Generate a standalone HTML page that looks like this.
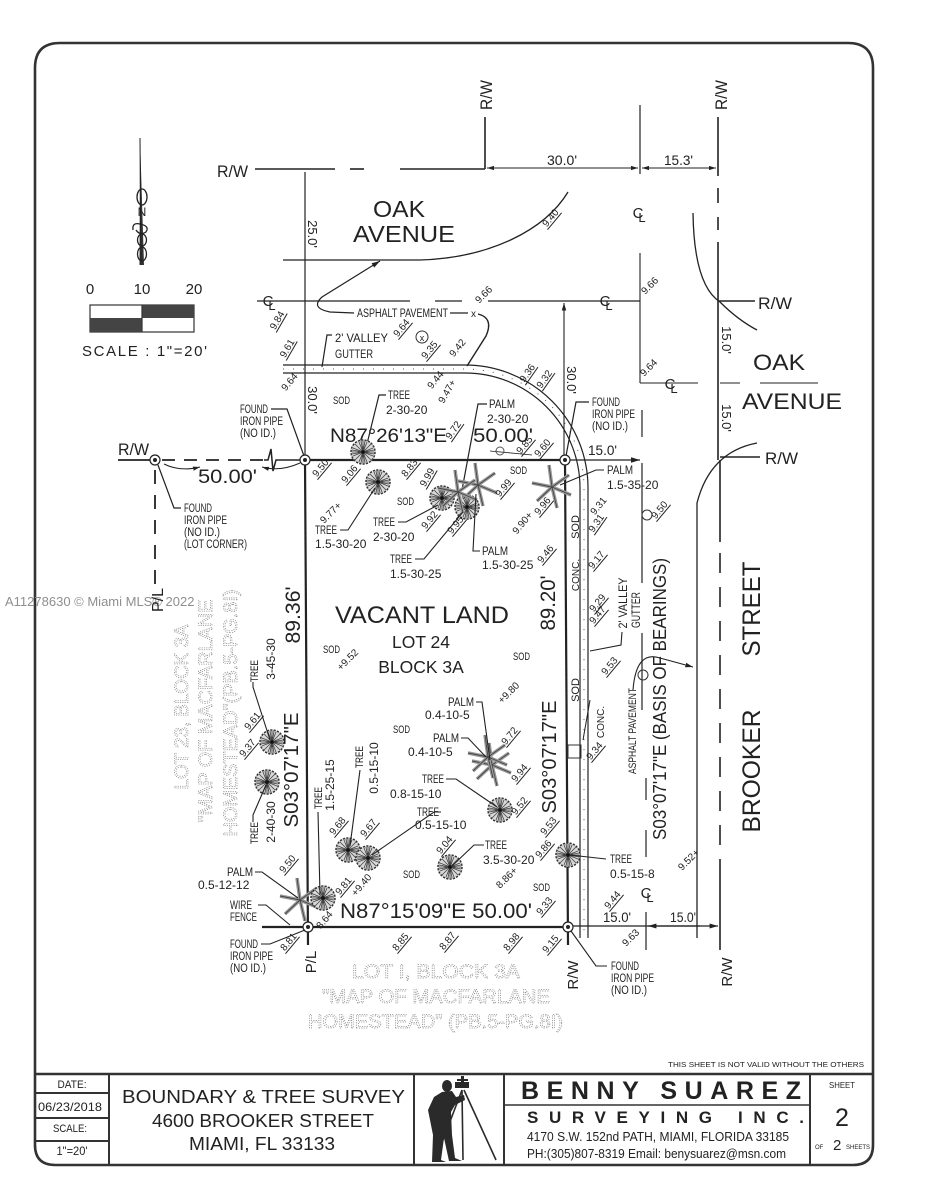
<!DOCTYPE html>
<html><head><meta charset="utf-8">
<style>
html,body{margin:0;padding:0;background:#fff;}
svg{display:block;}
text{font-family:"Liberation Sans",sans-serif;fill:#222;}
.g{fill:none;stroke:#8a8a8a;stroke-width:0.75;stroke-dasharray:1.1 1.2;}
.ln{stroke:#222;fill:none;}
</style></head><body>
<svg width="927" height="1200" viewBox="0 0 927 1200" xmlns="http://www.w3.org/2000/svg">
<defs>
<marker id="a" viewBox="0 0 10 10" refX="10" refY="5" markerWidth="7" markerHeight="7" orient="auto-start-reverse"><path d="M0,2L10,5L0,8z" fill="#222"/></marker>
<g id="t">
<circle r="12" fill="#d8d8d8" stroke="#333" stroke-width="1.5" stroke-dasharray="2.2 1.2"/>
<path d="M-11,0H11M0,-11V11M-8,-8L8,8M-8,8L8,-8M-4,-10L4,10M-10,-4L10,4M-10,4L10,-4M-4,10L4,-10M-2,-11L2,11M-11,-2L11,2M-11,2L11,-2M-2,11L2,-11" stroke="#444" stroke-width="0.8"/>
<circle r="1.8" fill="#111"/>
</g>
<g id="p">
<path d="M0,0L-3,-22M0,0L17,-12M0,0L19,8M0,0L5,21M0,0L-15,14M0,0L-20,-4" stroke="#999" stroke-width="3.5"/>
<path d="M0,0L-3,-22M0,0L17,-12M0,0L19,8M0,0L5,21M0,0L-15,14M0,0L-20,-4" stroke="#444" stroke-width="0.9"/>
</g>
<g id="ip"><circle r="5" fill="#fff" stroke="#222" stroke-width="1.2"/><circle r="2" fill="#222"/></g>
</defs>
<rect width="927" height="1200" fill="#fff"/>

<!-- border -->
<path d="M60,43 H848 Q873,43 873,68 V1145 Q873,1165 853,1165 H55 Q35,1165 35,1145 V68 Q35,43 60,43Z" fill="none" stroke="#333" stroke-width="2.6"/>
<line x1="35" y1="1074" x2="873" y2="1074" stroke="#333" stroke-width="2.6"/>
<g stroke="#333" stroke-width="2">
<line x1="109" y1="1074" x2="109" y2="1165"/>
<line x1="414" y1="1074" x2="414" y2="1165"/>
<line x1="504" y1="1074" x2="504" y2="1165"/>
<line x1="810" y1="1074" x2="810" y2="1165"/>
<line x1="35" y1="1093" x2="109" y2="1093"/>
<line x1="35" y1="1118" x2="109" y2="1118"/>
<line x1="35" y1="1141" x2="109" y2="1141"/>
<line x1="504" y1="1105" x2="810" y2="1105" stroke-width="1.5"/>
</g>
<text x="668" y="1067" font-size="7.5" textLength="196" lengthAdjust="spacingAndGlyphs">THIS SHEET IS NOT VALID WITHOUT THE OTHERS</text>

<!-- title block texts -->
<text x="72" y="1088" font-size="11" text-anchor="middle" textLength="29" lengthAdjust="spacingAndGlyphs">DATE:</text>
<text x="70" y="1111" font-size="12" text-anchor="middle" textLength="64" lengthAdjust="spacingAndGlyphs">06/23/2018</text>
<text x="70" y="1132" font-size="11" text-anchor="middle" textLength="34" lengthAdjust="spacingAndGlyphs">SCALE:</text>
<text x="72" y="1155" font-size="12" text-anchor="middle" textLength="31" lengthAdjust="spacingAndGlyphs">1"=20'</text>
<text x="122" y="1103" font-size="18" textLength="283" lengthAdjust="spacingAndGlyphs">BOUNDARY &amp; TREE SURVEY</text>
<text x="152" y="1127" font-size="18" textLength="222" lengthAdjust="spacingAndGlyphs">4600 BROOKER STREET</text>
<text x="189" y="1150" font-size="18" textLength="146" lengthAdjust="spacingAndGlyphs">MIAMI, FL 33133</text>
<text x="521" y="1099" font-size="25" font-weight="bold" textLength="280" lengthAdjust="spacing" fill="#333">BENNY SUAREZ</text>
<text x="527" y="1123" font-size="17" font-weight="bold" textLength="277" lengthAdjust="spacing" fill="#333">SURVEYING INC.</text>
<text x="527" y="1141" font-size="13" textLength="262" lengthAdjust="spacingAndGlyphs">4170 S.W. 152nd PATH,  MIAMI, FLORIDA 33185</text>
<text x="527" y="1158" font-size="13" textLength="259" lengthAdjust="spacingAndGlyphs">PH:(305)807-8319  Email:  benysuarez@msn.com</text>
<text x="842" y="1088" font-size="8.5" text-anchor="middle" textLength="26" lengthAdjust="spacingAndGlyphs">SHEET</text>
<text x="842" y="1126" font-size="25" text-anchor="middle">2</text>
<text x="815" y="1149" font-size="6">OF</text>
<text x="833" y="1150" font-size="15">2</text>
<text x="846" y="1149" font-size="6.5" textLength="24" lengthAdjust="spacingAndGlyphs">SHEETS</text>

<!-- surveyor figure -->
<g fill="#2a2a2a">
<ellipse cx="447" cy="1086" rx="5" ry="6"/>
<path d="M442,1092 L452,1091 L456,1097 L464,1095 L465,1100 L455,1105 L451,1112 L452,1135 L455,1158 L462,1161 L449,1161 L444,1138 L441,1160 L446,1162 L432,1162 L433,1135 L428,1110 L434,1097 Z"/>
<rect x="455" y="1082" width="14" height="6"/>
<rect x="461" y="1076" width="3" height="12"/>
<rect x="457" y="1079" width="11" height="2"/>
</g>
<g stroke="#2a2a2a" stroke-width="1.6">
<line x1="462" y1="1090" x2="443" y2="1140"/>
<line x1="462" y1="1090" x2="463" y2="1160"/>
<line x1="464" y1="1090" x2="496" y2="1160"/>
</g>

<!-- north arrow -->
<path d="M140,138 L144,265 L139.5,265 Z" fill="#333"/>
<line x1="140" y1="138" x2="141" y2="265" stroke="#222" stroke-width="1"/>
<ellipse cx="142" cy="197" rx="5" ry="8" fill="none" stroke="#222" stroke-width="1.3"/>
<text x="142" y="216" font-size="12" text-anchor="middle" font-family="Liberation Serif, serif">N</text>
<path d="M133,230 Q132,222 140,224 Q150,226 146,232 Q140,236 136,230" fill="none" stroke="#222" stroke-width="1.3"/>
<ellipse cx="142" cy="240" rx="4.5" ry="6" fill="none" stroke="#222" stroke-width="1.3"/>
<ellipse cx="142" cy="254" rx="4.5" ry="7" fill="none" stroke="#222" stroke-width="1.3"/>

<!-- scale -->
<text x="90" y="294" font-size="15" text-anchor="middle">0</text>
<text x="142" y="294" font-size="15" text-anchor="middle">10</text>
<text x="194" y="294" font-size="15" text-anchor="middle">20</text>
<rect x="90" y="305" width="104" height="27" fill="#fff" stroke="#333" stroke-width="1.2"/>
<rect x="142" y="305" width="52" height="13" fill="#444"/>
<rect x="90" y="318" width="52" height="14" fill="#444"/>
<line x1="142" y1="305" x2="142" y2="332" stroke="#333" stroke-width="1.2"/>
<text x="82" y="356" font-size="15" textLength="125" lengthAdjust="spacing">SCALE : 1"=20'</text>

<!-- watermark -->
<text x="5" y="606" font-size="13" fill="#8f8f8f" style="fill:#8f8f8f">A11278630 © Miami MLS® 2022</text>

<!-- ===== TOP OAK AVENUE ===== -->
<text x="217" y="177" font-size="17" textLength="31" lengthAdjust="spacingAndGlyphs">R/W</text>
<g class="ln" stroke-width="1.6">
<line x1="255" y1="169" x2="335" y2="169"/>
<line x1="350" y1="169" x2="364" y2="169"/>
<line x1="400" y1="169" x2="485" y2="169"/>
<line x1="485" y1="117" x2="485" y2="169"/>
<line x1="718" y1="117" x2="718" y2="176"/>
<line x1="718" y1="188" x2="718" y2="203"/>
<line x1="718" y1="217" x2="718" y2="230"/>
<line x1="718" y1="242" x2="718" y2="460"/>
<line x1="640" y1="105" x2="640" y2="174" stroke-width="1.2"/>
</g>
<line x1="487" y1="168" x2="638" y2="168" stroke="#222" stroke-width="1" marker-start="url(#a)" marker-end="url(#a)"/>
<line x1="642" y1="168" x2="716" y2="168" stroke="#222" stroke-width="1" marker-start="url(#a)" marker-end="url(#a)"/>
<g transform="translate(492,95) rotate(-90)"><text font-size="17" text-anchor="middle" textLength="30" lengthAdjust="spacingAndGlyphs">R/W</text></g>
<g transform="translate(727,95) rotate(-90)"><text font-size="17" text-anchor="middle" textLength="30" lengthAdjust="spacingAndGlyphs">R/W</text></g>
<text x="547" y="165" font-size="14" textLength="30" lengthAdjust="spacingAndGlyphs">30.0'</text>
<text x="664" y="165" font-size="14" textLength="29" lengthAdjust="spacingAndGlyphs">15.3'</text>

<!-- CL symbols -->
<g font-size="15" text-anchor="middle">
<text x="638" y="218">C</text><text x="642" y="222" font-size="13">L</text>
<text x="268" y="306">C</text><text x="272" y="310" font-size="13">L</text>
<text x="605" y="306">C</text><text x="609" y="310" font-size="13">L</text>
<text x="670" y="389">C</text><text x="674" y="393" font-size="13">L</text>
<text x="646" y="898">C</text><text x="650" y="902" font-size="13">L</text>
</g>

<text x="373" y="217" font-size="23" textLength="52" lengthAdjust="spacingAndGlyphs">OAK</text>
<text x="353" y="242" font-size="23" textLength="102" lengthAdjust="spacingAndGlyphs">AVENUE</text>

<!-- x=305 dimension line -->
<line x1="305" y1="172" x2="305" y2="460" stroke="#222" stroke-width="1.2"/>
<g transform="translate(308,234) rotate(90)"><text font-size="13" text-anchor="middle">25.0'</text></g>
<g transform="translate(308,400) rotate(90)"><text font-size="13" text-anchor="middle">30.0'</text></g>

<!-- pavement edge north -->
<path d="M283,260 L420,260 C490,258 545,230 568,192" class="ln" stroke-width="1.3"/>
<!-- CL line -->
<g class="ln" stroke-width="1.3">
<line x1="257" y1="301" x2="410" y2="301"/>
<line x1="435" y1="301" x2="462" y2="301"/>
<line x1="488" y1="301" x2="640" y2="301"/>
</g>
<text x="357" y="317" font-size="11.5" textLength="91" lengthAdjust="spacingAndGlyphs">ASPHALT PAVEMENT</text>
<path d="M354,313 L330,312 Q310,308 322,297 L380,261" class="ln" stroke-width="1.2" marker-end="url(#a)"/>
<path d="M450,313 L468,313" class="ln" stroke-width="1.2"/>
<text x="471" y="317" font-size="10">x</text>
<path d="M478,314 Q494,318 486,336 L467,366" class="ln" stroke-width="1.4"/>

<text x="335" y="342" font-size="12" textLength="53" lengthAdjust="spacingAndGlyphs">2' VALLEY</text>
<text x="335" y="358" font-size="12" textLength="38" lengthAdjust="spacingAndGlyphs">GUTTER</text>
<path d="M332,335 L327,335 L322,367" class="ln" stroke-width="1.2"/>
<circle cx="422" cy="337" r="6" fill="none" stroke="#333" stroke-width="1"/>
<text x="422" y="341" font-size="9" text-anchor="middle">x</text>

<!-- gutter -->
<path d="M283,365 L465,365 A123,123 0 0 1 588,488 L588,938" class="ln" stroke-width="1.2"/>
<path d="M283,373 L465,373 A115,115 0 0 1 580,488 L580,938" class="ln" stroke-width="1.2"/>
<path d="M283,369 L465,369 A119,119 0 0 1 584,488 L584,938" fill="none" stroke="#555" stroke-width="1" stroke-dasharray="1 9"/>

<text x="333" y="404" font-size="11" textLength="17" lengthAdjust="spacingAndGlyphs">SOD</text>

<!-- found iron pipe NW -->
<g font-size="11.5">
<text x="240" y="413" textLength="28" lengthAdjust="spacingAndGlyphs">FOUND</text>
<text x="240" y="425" textLength="43" lengthAdjust="spacingAndGlyphs">IRON PIPE</text>
<text x="240" y="437" textLength="36" lengthAdjust="spacingAndGlyphs">(NO ID.)</text>
</g>
<path d="M271,409 L287,409 L304,456" class="ln" stroke-width="1.2"/>

<g font-size="12">
<text x="388" y="399" textLength="22" lengthAdjust="spacingAndGlyphs">TREE</text>
<text x="386" y="414">2-30-20</text>
<text x="489" y="408" textLength="26" lengthAdjust="spacingAndGlyphs">PALM</text>
<text x="487" y="423">2-30-20</text>
</g>
<path d="M386,395 L379,395 L365,452" class="ln" stroke-width="1.2"/>
<path d="M487,404 L478,404 L462,490" class="ln" stroke-width="1.2"/>

<text x="330" y="442" font-size="19.5" textLength="117" lengthAdjust="spacingAndGlyphs">N87°26'13"E</text>
<text x="473" y="442" font-size="19.5" textLength="60" lengthAdjust="spacingAndGlyphs">50.00'</text>

<!-- found iron pipe NE -->
<g font-size="11.5">
<text x="592" y="406" textLength="28" lengthAdjust="spacingAndGlyphs">FOUND</text>
<text x="592" y="418" textLength="43" lengthAdjust="spacingAndGlyphs">IRON PIPE</text>
<text x="592" y="430" textLength="36" lengthAdjust="spacingAndGlyphs">(NO ID.)</text>
</g>
<path d="M589,402 L576,402 L566,456" class="ln" stroke-width="1.2"/>
<line x1="642" y1="410" x2="642" y2="437" stroke="#222" stroke-width="1.2"/>
<text x="588" y="455" font-size="14" textLength="29" lengthAdjust="spacingAndGlyphs">15.0'</text>
<line x1="565" y1="460" x2="640" y2="460" stroke="#222" stroke-width="1.3" marker-end="url(#a)"/>

<!-- x=564 dimension 30.0' -->
<line x1="564" y1="303" x2="564" y2="458" stroke="#222" stroke-width="1.1" marker-start="url(#a)"/>
<g transform="translate(567,380) rotate(90)"><text font-size="13" text-anchor="middle">30.0'</text></g>

<!-- x=640 dim line -->
<line x1="640" y1="253" x2="640" y2="383" stroke="#222" stroke-width="1.1"/>
<line x1="640" y1="383" x2="698" y2="383" stroke="#222" stroke-width="1.1"/>

<!-- NE curves and R/W -->
<path d="M693,213 Q694,285 720,302 Q738,320 757,330" class="ln" stroke-width="1.3"/>
<line x1="718" y1="301" x2="755" y2="301" stroke="#222" stroke-width="1.5"/>
<text x="758" y="309" font-size="17" textLength="34" lengthAdjust="spacingAndGlyphs">R/W</text>
<g transform="translate(722,340) rotate(90)"><text font-size="13" text-anchor="middle">15.0'</text></g>
<g transform="translate(722,418) rotate(90)"><text font-size="13" text-anchor="middle">15.0'</text></g>
<line x1="720" y1="383" x2="740" y2="383" stroke="#222" stroke-width="1.1"/>
<line x1="760" y1="383" x2="818" y2="383" stroke="#222" stroke-width="1.1"/>
<text x="753" y="370" font-size="22" textLength="52" lengthAdjust="spacingAndGlyphs">OAK</text>
<text x="742" y="409" font-size="22" textLength="100" lengthAdjust="spacingAndGlyphs">AVENUE</text>
<line x1="720" y1="457" x2="760" y2="457" stroke="#222" stroke-width="1.5"/>
<text x="765" y="464" font-size="17" textLength="33" lengthAdjust="spacingAndGlyphs">R/W</text>
<path d="M757,443 Q710,452 697,503 L697,938" class="ln" stroke-width="1.3"/>

<!-- x=720 line below -->
<line x1="720" y1="460" x2="720" y2="542" stroke="#222" stroke-width="1.6"/>
<line x1="720" y1="553" x2="720" y2="868" stroke="#222" stroke-width="1.6" stroke-dasharray="20 14"/>
<line x1="720" y1="868" x2="720" y2="950" stroke="#222" stroke-width="1.6"/>

<!-- x=642 line segments -->
<g stroke="#222" stroke-width="1.2">
<line x1="642" y1="463" x2="642" y2="583"/>
<line x1="642" y1="633" x2="642" y2="710"/>
<line x1="646" y1="778" x2="646" y2="800"/>
<line x1="646" y1="830" x2="646" y2="857"/>
<line x1="646" y1="912" x2="646" y2="950"/>
</g>

<!-- ===== LEFT R/W ===== -->
<text x="118" y="455" font-size="17" textLength="31" lengthAdjust="spacingAndGlyphs">R/W</text>
<line x1="118" y1="460" x2="150" y2="460" stroke="#222" stroke-width="1.8"/>
<line x1="162" y1="460" x2="264" y2="460" stroke="#222" stroke-width="1.8" stroke-dasharray="13 9"/>
<path d="M264,460 L268,460 L271,449 L273,471 L276,460 L300,460" class="ln" stroke-width="1.5"/>
<path d="M164,464 Q180,472 200,467" class="ln" stroke-width="1" marker-end="url(#a)"/>
<path d="M300,463 Q280,472 262,467" class="ln" stroke-width="1" marker-end="url(#a)"/>
<text x="198" y="483" font-size="19.5" textLength="59" lengthAdjust="spacingAndGlyphs">50.00'</text>
<line x1="155" y1="470" x2="155" y2="585" stroke="#222" stroke-width="1.8" stroke-dasharray="14 11"/>
<g transform="translate(163,600) rotate(-90)"><text font-size="16" text-anchor="middle">P/L</text></g>
<g font-size="11.5">
<text x="184" y="512" textLength="28" lengthAdjust="spacingAndGlyphs">FOUND</text>
<text x="184" y="524" textLength="43" lengthAdjust="spacingAndGlyphs">IRON PIPE</text>
<text x="184" y="536" textLength="36" lengthAdjust="spacingAndGlyphs">(NO ID.)</text>
<text x="184" y="548" textLength="63" lengthAdjust="spacingAndGlyphs">(LOT CORNER)</text>
</g>
<path d="M181,508 L174,508 L158,465" class="ln" stroke-width="1.2"/>

<!-- ===== LOT ===== -->
<g stroke="#222" stroke-width="2.2" fill="none">
<line x1="305" y1="460" x2="565" y2="460"/>
<line x1="305" y1="460" x2="308" y2="945"/>
<line x1="565" y1="460" x2="568" y2="945"/>
<line x1="262" y1="927" x2="568" y2="927"/>
</g>
<line x1="568" y1="926" x2="718" y2="926" stroke="#222" stroke-width="1.2" marker-end="url(#a)"/>
<line x1="648" y1="926" x2="700" y2="926" stroke="#222" stroke-width="1.2" marker-start="url(#a)"/>
<use href="#ip" x="155" y="460"/>
<use href="#ip" x="305" y="460"/>
<use href="#ip" x="565" y="460"/>
<use href="#ip" x="308" y="927"/>
<use href="#ip" x="568" y="927"/>

<!-- trees & palms -->
<use href="#t" x="363" y="452"/>
<use href="#t" x="378" y="482"/>
<use href="#t" x="442" y="498"/>
<use href="#t" x="467" y="507"/>
<use href="#p" x="478" y="485"/>
<use href="#p" x="458" y="492"/>
<use href="#p" x="552" y="487"/>
<use href="#t" x="272" y="742"/>
<use href="#t" x="267" y="782"/>
<use href="#p" x="492" y="765"/>
<use href="#p" x="488" y="757"/>
<use href="#t" x="500" y="810"/>
<use href="#t" x="348" y="850"/>
<use href="#t" x="368" y="858"/>
<use href="#t" x="450" y="867"/>
<use href="#t" x="568" y="855"/>
<use href="#p" x="300" y="900"/>
<use href="#t" x="323" y="898"/>
<path d="M532,455 L490,451" stroke="#222" stroke-width="0.8"/>
<circle cx="500" cy="451" r="4" fill="none" stroke="#555" stroke-width="1"/>

<g font-size="12">
<text x="315" y="534" textLength="22" lengthAdjust="spacingAndGlyphs">TREE</text>
<text x="315" y="548">1.5-30-20</text>
<text x="373" y="526" textLength="22" lengthAdjust="spacingAndGlyphs">TREE</text>
<text x="373" y="541">2-30-20</text>
<text x="390" y="563" textLength="22" lengthAdjust="spacingAndGlyphs">TREE</text>
<text x="390" y="578">1.5-30-25</text>
<text x="482" y="555" textLength="26" lengthAdjust="spacingAndGlyphs">PALM</text>
<text x="482" y="569">1.5-30-25</text>
<text x="607" y="474" textLength="26" lengthAdjust="spacingAndGlyphs">PALM</text>
<text x="607" y="489">1.5-35-20</text>
</g>
<path d="M340,530 L348,530 L375,488" class="ln" stroke-width="1.1"/>
<path d="M398,522 L406,522 L438,505" class="ln" stroke-width="1.1"/>
<path d="M415,559 L424,559 L463,512" class="ln" stroke-width="1.1"/>
<path d="M480,551 L473,551 L476,494" class="ln" stroke-width="1.1"/>
<path d="M604,470 L596,470 L560,485" class="ln" stroke-width="1.1"/>

<g font-size="11">
<text x="397" y="505" textLength="17" lengthAdjust="spacingAndGlyphs">SOD</text>
<text x="510" y="474" textLength="17" lengthAdjust="spacingAndGlyphs">SOD</text>
<text x="323" y="653" textLength="17" lengthAdjust="spacingAndGlyphs">SOD</text>
<text x="513" y="660" textLength="17" lengthAdjust="spacingAndGlyphs">SOD</text>
<text x="393" y="733" textLength="17" lengthAdjust="spacingAndGlyphs">SOD</text>
<text x="403" y="878" textLength="17" lengthAdjust="spacingAndGlyphs">SOD</text>
<text x="533" y="891" textLength="17" lengthAdjust="spacingAndGlyphs">SOD</text>
</g>
<g transform="translate(579,527) rotate(-90)"><text font-size="11" text-anchor="middle">SOD</text></g>
<g transform="translate(579,690) rotate(-90)"><text font-size="11" text-anchor="middle">SOD</text></g>
<g transform="translate(579,575) rotate(-90)"><text font-size="10" text-anchor="middle">CONC.</text></g>
<g transform="translate(604,722) rotate(-90)"><text font-size="10" text-anchor="middle">CONC.</text></g>
<rect x="568" y="745" width="13" height="13" fill="none" stroke="#333" stroke-width="1"/>
<path d="M583,740 L590,700" class="ln" stroke-width="1"/>

<text x="335" y="623" font-size="24" textLength="174" lengthAdjust="spacingAndGlyphs">VACANT LAND</text>
<text x="421" y="648" font-size="17.5" text-anchor="middle">LOT 24</text>
<text x="421" y="673" font-size="17.5" text-anchor="middle">BLOCK 3A</text>
<g transform="translate(300,615) rotate(-90)"><text font-size="21" text-anchor="middle" textLength="57" lengthAdjust="spacingAndGlyphs">89.36'</text></g>
<g transform="translate(555,603) rotate(-90)"><text font-size="21" text-anchor="middle" textLength="55" lengthAdjust="spacingAndGlyphs">89.20'</text></g>
<g transform="translate(298,770) rotate(-90)"><text font-size="20" text-anchor="middle" textLength="115" lengthAdjust="spacingAndGlyphs">S03°07'17"E</text></g>
<g transform="translate(556,757) rotate(-90)"><text font-size="20" text-anchor="middle" textLength="113" lengthAdjust="spacingAndGlyphs">S03°07'17"E</text></g>
<g transform="translate(666,699) rotate(-90)"><text font-size="18" text-anchor="middle" textLength="282" lengthAdjust="spacingAndGlyphs">S03°07'17"E (BASIS OF BEARINGS)</text></g>
<g transform="translate(636,731) rotate(-90)"><text font-size="11" text-anchor="middle" textLength="86" lengthAdjust="spacingAndGlyphs">ASPHALT PAVEMENT</text></g>
<path d="M633,690 Q636,650 660,658 L693,667" class="ln" stroke-width="1.1" marker-end="url(#a)"/>
<g transform="translate(627,603) rotate(-90)"><text font-size="12" text-anchor="middle" textLength="51" lengthAdjust="spacingAndGlyphs">2' VALLEY</text></g>
<g transform="translate(640,610) rotate(-90)"><text font-size="12" text-anchor="middle" textLength="36" lengthAdjust="spacingAndGlyphs">GUTTER</text></g>
<path d="M622,632 L621,645 L590,651" class="ln" stroke-width="1.1"/>
<circle cx="647" cy="515" r="5" fill="none" stroke="#333" stroke-width="1"/>
<circle cx="643" cy="675" r="5" fill="none" stroke="#333" stroke-width="1"/>

<g transform="translate(760,609) rotate(-90)"><text font-size="25" text-anchor="middle" textLength="95" lengthAdjust="spacingAndGlyphs">STREET</text></g>
<g transform="translate(760,771) rotate(-90)"><text font-size="25" text-anchor="middle" textLength="123" lengthAdjust="spacingAndGlyphs">BROOKER</text></g>

<!-- lot 23 / lot 1 dotted texts -->
<g transform="translate(188,707) rotate(-90)"><text class="g" font-size="19" text-anchor="middle" textLength="165" lengthAdjust="spacingAndGlyphs">LOT 23, BLOCK 3A</text></g>
<g transform="translate(212,711) rotate(-90)"><text class="g" font-size="19" text-anchor="middle" textLength="223" lengthAdjust="spacingAndGlyphs">"MAP OF MACFARLANE</text></g>
<g transform="translate(237,713) rotate(-90)"><text class="g" font-size="19" text-anchor="middle" textLength="247" lengthAdjust="spacingAndGlyphs">HOMESTEAD"(PB.5-PG.8I)</text></g>
<text class="g" x="352" y="978" font-size="19" textLength="168" lengthAdjust="spacingAndGlyphs">LOT I, BLOCK 3A</text>
<text class="g" x="322" y="1003" font-size="19" textLength="228" lengthAdjust="spacingAndGlyphs">"MAP OF MACFARLANE</text>
<text class="g" x="308" y="1028" font-size="19" textLength="255" lengthAdjust="spacingAndGlyphs">HOMESTEAD" (PB.5-PG.8I)</text>

<!-- left tree labels -->
<g transform="translate(258,671) rotate(-90)"><text font-size="11" text-anchor="middle" textLength="22" lengthAdjust="spacingAndGlyphs">TREE</text></g>
<g transform="translate(275,659) rotate(-90)"><text font-size="12" text-anchor="middle">3-45-30</text></g>
<path d="M253,682 L253,687 L270,740" class="ln" stroke-width="1.1"/>
<g transform="translate(258,833) rotate(-90)"><text font-size="11" text-anchor="middle" textLength="22" lengthAdjust="spacingAndGlyphs">TREE</text></g>
<g transform="translate(275,822) rotate(-90)"><text font-size="12" text-anchor="middle">2-40-30</text></g>
<path d="M253,822 L253,815 L266,785" class="ln" stroke-width="1.1"/>

<g transform="translate(322,798) rotate(-90)"><text font-size="11" text-anchor="middle" textLength="22" lengthAdjust="spacingAndGlyphs">TREE</text></g>
<g transform="translate(334,785) rotate(-90)"><text font-size="12" text-anchor="middle">1.5-25-15</text></g>
<path d="M318,812 L320,895" class="ln" stroke-width="1.1"/>
<g transform="translate(363,757) rotate(-90)"><text font-size="11" text-anchor="middle" textLength="22" lengthAdjust="spacingAndGlyphs">TREE</text></g>
<g transform="translate(378,768) rotate(-90)"><text font-size="12" text-anchor="middle">0.5-15-10</text></g>
<path d="M360,770 L350,846" class="ln" stroke-width="1.1"/>

<g font-size="12">
<text x="448" y="706" textLength="26" lengthAdjust="spacingAndGlyphs">PALM</text>
<text x="425" y="719">0.4-10-5</text>
<text x="433" y="742" textLength="26" lengthAdjust="spacingAndGlyphs">PALM</text>
<text x="408" y="756">0.4-10-5</text>
<text x="422" y="783" textLength="22" lengthAdjust="spacingAndGlyphs">TREE</text>
<text x="390" y="798">0.8-15-10</text>
<text x="417" y="816" textLength="22" lengthAdjust="spacingAndGlyphs">TREE</text>
<text x="415" y="829">0.5-15-10</text>
<text x="485" y="849" textLength="22" lengthAdjust="spacingAndGlyphs">TREE</text>
<text x="483" y="864">3.5-30-20</text>
<text x="610" y="863" textLength="22" lengthAdjust="spacingAndGlyphs">TREE</text>
<text x="610" y="878">0.5-15-8</text>
<text x="227" y="876" textLength="26" lengthAdjust="spacingAndGlyphs">PALM</text>
<text x="198" y="889">0.5-12-12</text>
<text x="230" y="909" textLength="22" lengthAdjust="spacingAndGlyphs">WIRE</text>
<text x="230" y="921" textLength="27" lengthAdjust="spacingAndGlyphs">FENCE</text>
</g>
<path d="M476,702 L482,702 L490,760" class="ln" stroke-width="1.1"/>
<path d="M461,738 L468,738 L486,757" class="ln" stroke-width="1.1"/>
<path d="M446,779 L456,779 L497,807" class="ln" stroke-width="1.1"/>
<path d="M441,812 L434,812 L372,855" class="ln" stroke-width="1.1"/>
<path d="M484,845 L474,845 L452,866" class="ln" stroke-width="1.1"/>
<path d="M606,859 L570,855" class="ln" stroke-width="1.1"/>
<path d="M255,872 L262,872 L298,898" class="ln" stroke-width="1.1"/>
<path d="M258,905 L266,905 L290,925" class="ln" stroke-width="1.1"/>

<text x="340" y="918" font-size="21" textLength="192" lengthAdjust="spacingAndGlyphs">N87°15'09"E  50.00'</text>

<g font-size="11.5">
<text x="230" y="948" textLength="28" lengthAdjust="spacingAndGlyphs">FOUND</text>
<text x="230" y="960" textLength="43" lengthAdjust="spacingAndGlyphs">IRON PIPE</text>
<text x="230" y="972" textLength="36" lengthAdjust="spacingAndGlyphs">(NO ID.)</text>
<text x="611" y="970" textLength="28" lengthAdjust="spacingAndGlyphs">FOUND</text>
<text x="611" y="982" textLength="43" lengthAdjust="spacingAndGlyphs">IRON PIPE</text>
<text x="611" y="994" textLength="36" lengthAdjust="spacingAndGlyphs">(NO ID.)</text>
</g>
<path d="M261,944 L270,944 L305,930" class="ln" stroke-width="1.1"/>
<path d="M607,966 L596,966 L571,931" class="ln" stroke-width="1.1"/>
<text x="603" y="922" font-size="14" textLength="28" lengthAdjust="spacingAndGlyphs">15.0'</text>
<text x="670" y="922" font-size="14" textLength="26" lengthAdjust="spacingAndGlyphs">15.0'</text>
<g transform="translate(316,962) rotate(-90)"><text font-size="15" text-anchor="middle">P/L</text></g>
<g transform="translate(578,975) rotate(-90)"><text font-size="15" text-anchor="middle">R/W</text></g>
<g transform="translate(732,972) rotate(-90)"><text font-size="15" text-anchor="middle">R/W</text></g>

<!-- elevation labels -->
<g font-size="10">
<g transform="translate(280,322) rotate(-60)"><text text-anchor="middle">9.84</text><path d="M-11,2H11" stroke="#222"/></g>
<g transform="translate(290,350) rotate(-60)"><text text-anchor="middle">9.61</text><path d="M-11,2H11" stroke="#222"/></g>
<g transform="translate(292,384) rotate(-50)"><text text-anchor="middle">9.64</text></g>
<g transform="translate(404,330) rotate(-50)"><text text-anchor="middle">9.64</text><path d="M-11,2H11" stroke="#222"/></g>
<g transform="translate(432,352) rotate(-50)"><text text-anchor="middle">9.35</text><path d="M-11,2H11" stroke="#222"/></g>
<g transform="translate(460,350) rotate(-50)"><text text-anchor="middle">9.42</text></g>
<g transform="translate(438,382) rotate(-50)"><text text-anchor="middle">9.44</text></g>
<g transform="translate(450,393) rotate(-60)"><text text-anchor="middle">9.47+</text></g>
<g transform="translate(486,297) rotate(-45)"><text text-anchor="middle">9.66</text></g>
<g transform="translate(553,220) rotate(-50)"><text text-anchor="middle">9.40</text><path d="M-11,2H11" stroke="#222"/></g>
<g transform="translate(530,375) rotate(-55)"><text text-anchor="middle">9.36</text><path d="M-11,2H11" stroke="#222"/></g>
<g transform="translate(547,381) rotate(-55)"><text text-anchor="middle">9.32</text><path d="M-11,2H11" stroke="#222"/></g>
<g transform="translate(652,288) rotate(-45)"><text text-anchor="middle">9.66</text></g>
<g transform="translate(651,370) rotate(-45)"><text text-anchor="middle">9.64</text></g>
<g transform="translate(456,432) rotate(-55)"><text text-anchor="middle">9.72</text><path d="M-11,2H11" stroke="#222"/></g>
<g transform="translate(527,447) rotate(-50)"><text text-anchor="middle">9.85</text><path d="M-11,2H11" stroke="#222"/></g>
<g transform="translate(545,450) rotate(-50)"><text text-anchor="middle">9.60</text><path d="M-11,2H11" stroke="#222"/></g>
<g transform="translate(323,470) rotate(-50)"><text text-anchor="middle">9.50</text><path d="M-11,2H11" stroke="#222"/></g>
<g transform="translate(352,476) rotate(-50)"><text text-anchor="middle">9.06</text><path d="M-11,2H11" stroke="#222"/></g>
<g transform="translate(412,470) rotate(-50)"><text text-anchor="middle">8.83</text><path d="M-11,2H11" stroke="#222"/></g>
<g transform="translate(430,479) rotate(-60)"><text text-anchor="middle">9.99</text><path d="M-11,2H11" stroke="#222"/></g>
<g transform="translate(333,515) rotate(-45)"><text text-anchor="middle">9.77+</text></g>
<g transform="translate(432,522) rotate(-50)"><text text-anchor="middle">9.92</text><path d="M-11,2H11" stroke="#222"/></g>
<g transform="translate(458,527) rotate(-50)"><text text-anchor="middle">9.95</text><path d="M-11,2H11" stroke="#222"/></g>
<g transform="translate(506,490) rotate(-50)"><text text-anchor="middle">9.99</text><path d="M-11,2H11" stroke="#222"/></g>
<g transform="translate(545,508) rotate(-50)"><text text-anchor="middle">9.96</text><path d="M-11,2H11" stroke="#222"/></g>
<g transform="translate(525,525) rotate(-50)"><text text-anchor="middle">9.90+</text></g>
<g transform="translate(548,556) rotate(-50)"><text text-anchor="middle">9.46</text><path d="M-11,2H11" stroke="#222"/></g>
<g transform="translate(601,508) rotate(-50)"><text text-anchor="middle">9.31</text></g>
<g transform="translate(599,525) rotate(-55)"><text text-anchor="middle">9.31</text><path d="M-11,2H11" stroke="#222"/></g>
<g transform="translate(599,562) rotate(-50)"><text text-anchor="middle">9.17</text><path d="M-11,2H11" stroke="#222"/></g>
<g transform="translate(662,512) rotate(-50)"><text text-anchor="middle">9.50</text><path d="M-11,2H11" stroke="#222"/></g>
<g transform="translate(600,605) rotate(-50)"><text text-anchor="middle">9.29</text><path d="M-11,2H11" stroke="#222"/></g>
<g transform="translate(600,617) rotate(-50)"><text text-anchor="middle">9.47</text><path d="M-11,2H11" stroke="#222"/></g>
<g transform="translate(612,668) rotate(-50)"><text text-anchor="middle">9.53</text><path d="M-11,2H11" stroke="#222"/></g>
<g transform="translate(350,662) rotate(-45)"><text text-anchor="middle">+9.52</text></g>
<g transform="translate(511,695) rotate(-45)"><text text-anchor="middle">+9.80</text></g>
<g transform="translate(512,738) rotate(-50)"><text text-anchor="middle">9.72</text><path d="M-11,2H11" stroke="#222"/></g>
<g transform="translate(522,775) rotate(-50)"><text text-anchor="middle">9.94</text><path d="M-11,2H11" stroke="#222"/></g>
<g transform="translate(522,808) rotate(-50)"><text text-anchor="middle">9.52</text><path d="M-11,2H11" stroke="#222"/></g>
<g transform="translate(551,828) rotate(-50)"><text text-anchor="middle">9.53</text><path d="M-11,2H11" stroke="#222"/></g>
<g transform="translate(546,851) rotate(-50)"><text text-anchor="middle">9.86</text><path d="M-11,2H11" stroke="#222"/></g>
<g transform="translate(597,753) rotate(-50)"><text text-anchor="middle">9.34</text><path d="M-11,2H11" stroke="#222"/></g>
<g transform="translate(255,723) rotate(-50)"><text text-anchor="middle">9.61</text><path d="M-11,2H11" stroke="#222"/></g>
<g transform="translate(250,750) rotate(-50)"><text text-anchor="middle">9.37</text><path d="M-11,2H11" stroke="#222"/></g>
<g transform="translate(340,828) rotate(-50)"><text text-anchor="middle">9.68</text><path d="M-11,2H11" stroke="#222"/></g>
<g transform="translate(371,830) rotate(-50)"><text text-anchor="middle">9.67</text><path d="M-11,2H11" stroke="#222"/></g>
<g transform="translate(447,847) rotate(-50)"><text text-anchor="middle">9.04</text><path d="M-11,2H11" stroke="#222"/></g>
<g transform="translate(290,866) rotate(-50)"><text text-anchor="middle">9.50</text><path d="M-11,2H11" stroke="#222"/></g>
<g transform="translate(346,888) rotate(-50)"><text text-anchor="middle">9.81</text><path d="M-11,2H11" stroke="#222"/></g>
<g transform="translate(364,887) rotate(-50)"><text text-anchor="middle">+9.40</text></g>
<g transform="translate(509,880) rotate(-45)"><text text-anchor="middle">8.86+</text></g>
<g transform="translate(327,922) rotate(-50)"><text text-anchor="middle">8.64</text></g>
<g transform="translate(547,908) rotate(-50)"><text text-anchor="middle">9.33</text><path d="M-11,2H11" stroke="#222"/></g>
<g transform="translate(615,902) rotate(-50)"><text text-anchor="middle">9.44</text><path d="M-11,2H11" stroke="#222"/></g>
<g transform="translate(291,944) rotate(-50)"><text text-anchor="middle">8.81</text><path d="M-11,2H11" stroke="#222"/></g>
<g transform="translate(403,944) rotate(-50)"><text text-anchor="middle">8.85</text><path d="M-11,2H11" stroke="#222"/></g>
<g transform="translate(450,943) rotate(-50)"><text text-anchor="middle">8.87</text><path d="M-11,2H11" stroke="#222"/></g>
<g transform="translate(514,944) rotate(-50)"><text text-anchor="middle">8.98</text><path d="M-11,2H11" stroke="#222"/></g>
<g transform="translate(553,946) rotate(-50)"><text text-anchor="middle">9.15</text><path d="M-11,2H11" stroke="#222"/></g>
<g transform="translate(633,940) rotate(-45)"><text text-anchor="middle">9.63</text></g>
<g transform="translate(691,862) rotate(-45)"><text text-anchor="middle">9.52+</text></g>
</g>
</svg>
</body></html>
